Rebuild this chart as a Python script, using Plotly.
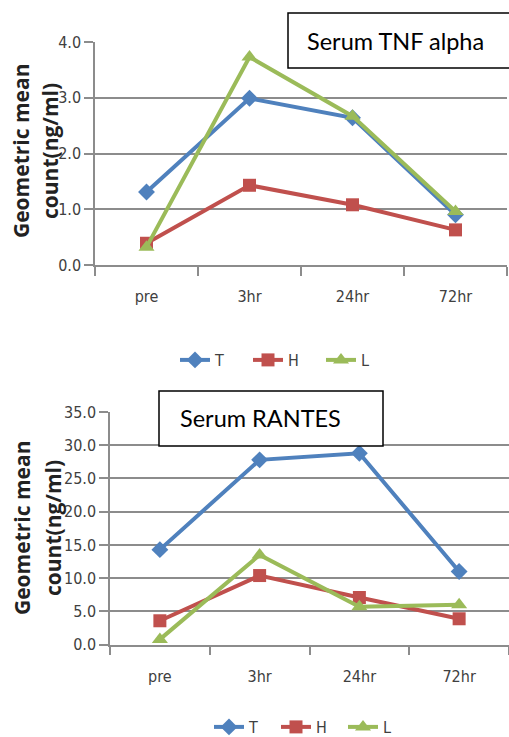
import plotly.graph_objects as go

categories = ["pre", "3hr", "24hr", "72hr"]

tnf_T = [1.31, 2.99, 2.64, 0.90]
tnf_H = [0.39, 1.43, 1.08, 0.63]
tnf_L = [0.32, 3.73, 2.67, 0.96]

rantes_T = [14.3, 27.8, 28.8, 11.0]
rantes_H = [3.6, 10.4, 7.1, 3.9]
rantes_L = [0.8, 13.5, 5.7, 6.0]

series_names = ["T", "H", "L"]
colors = ["#4F81BD", "#C0504D", "#9BBB59"]
symbols = ["diamond", "square", "triangle-up"]
msizes = [13, 13, 14]

W, H = 509, 737
def px(x):
    return x / W
def py(y):
    return 1 - y / H

tick_font = dict(family="Liberation Sans Narrow, DejaVu Sans Condensed, Arial Narrow, Roboto, sans-serif", size=16, color="#404040")
grid = "#8C8C8C"

fig = go.Figure()

for data, xa, ya, lg in [((tnf_T, tnf_H, tnf_L), "x", "y", "legend"),
                         ((rantes_T, rantes_H, rantes_L), "x2", "y2", "legend2")]:
    for vals, name, c, s, ms in zip(data, series_names, colors, symbols, msizes):
        fig.add_trace(go.Scatter(
            x=categories, y=vals, name=name, mode="lines+markers",
            line=dict(color=c, width=4),
            marker=dict(symbol=s, size=ms, color=c),
            xaxis=xa, yaxis=ya, legend=lg, cliponaxis=False,
        ))

common_x = dict(type="category", showgrid=False, showline=True, linecolor=grid, linewidth=1.5,
                ticks="outside", tickson="boundaries", ticklen=9, tickcolor=grid, tickwidth=1.5,
                tickfont=tick_font, ticklabelstandoff=16, range=[-0.5, 3.5], fixedrange=True,
                automargin=False)
common_y = dict(showgrid=True, gridcolor=grid, gridwidth=1.5, showline=True, linecolor=grid, linewidth=1.5,
                ticks="outside", ticklen=9, tickcolor=grid, tickwidth=1.5, tickfont=tick_font,
                tickformat=".1f", zeroline=False, automargin=False)

fig.update_layout(
    width=W, height=H, margin=dict(l=0, r=0, t=0, b=0, autoexpand=False),
    paper_bgcolor="white", plot_bgcolor="white",
    xaxis=dict(common_x, domain=[px(95), px(507)], anchor="y"),
    yaxis=dict(common_y, domain=[py(265), py(42)], range=[0, 4], dtick=1, anchor="x"),
    xaxis2=dict(common_x, domain=[px(110), px(509)], anchor="y2"),
    yaxis2=dict(common_y, domain=[py(644.7), py(412)], range=[0, 35], dtick=5, anchor="x2"),
    legend=dict(orientation="h", x=px(175), xanchor="left", y=py(360), yanchor="middle",
                font=tick_font, entrywidth=28, entrywidthmode="pixels", bgcolor="rgba(0,0,0,0)"),
    legend2=dict(orientation="h", x=px(209), xanchor="left", y=py(727), yanchor="middle",
                 font=tick_font, entrywidth=22, entrywidthmode="pixels", bgcolor="rgba(0,0,0,0)"),
    showlegend=True,
)

# Title boxes
fig.add_shape(type="rect", xref="paper", yref="paper", x0=px(288), x1=px(520), y0=py(68), y1=py(13),
              line=dict(color="black", width=1.5), fillcolor="white", layer="above")
fig.add_annotation(text="Serum TNF alpha", xref="paper", yref="paper", x=px(305), y=py(41),
                   xanchor="left", yanchor="middle", showarrow=False,
                   font=dict(family="Lato, Open Sans, sans-serif", size=23.5, color="black"))
fig.add_shape(type="rect", xref="paper", yref="paper", x0=px(159), x1=px(383), y0=py(446), y1=py(391),
              line=dict(color="black", width=1.5), fillcolor="white", layer="above")
fig.add_annotation(text="Serum RANTES", xref="paper", yref="paper", x=px(178), y=py(418),
                   xanchor="left", yanchor="middle", showarrow=False,
                   font=dict(family="Lato, Open Sans, sans-serif", size=23.5, color="black"))

# Y axis titles
ytitle_font = dict(family="Open Sans, sans-serif", size=21, color="#222222")
for cy, x1, x2 in [(151, 21, 50), (528, 22, 53)]:
    fig.add_annotation(text="<b>Geometric mean</b>", xref="paper", yref="paper", x=px(x1), y=py(cy),
                       xanchor="center", yanchor="middle", textangle=-90, showarrow=False, font=ytitle_font)
    fig.add_annotation(text="<b>count(ng/ml)</b>", xref="paper", yref="paper", x=px(x2), y=py(cy),
                       xanchor="center", yanchor="middle", textangle=-90, showarrow=False, font=ytitle_font)

fig.write_html("out.html")
